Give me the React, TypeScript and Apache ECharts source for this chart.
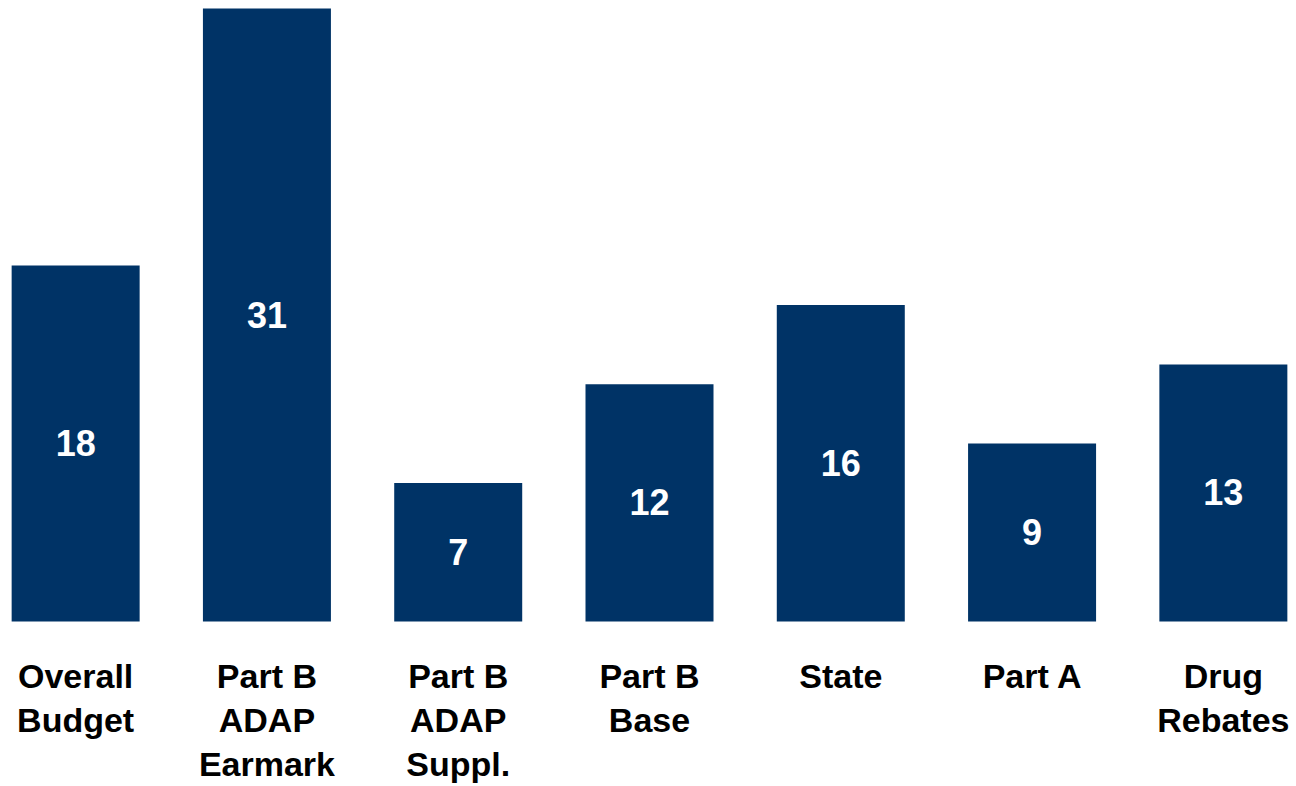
import React, { useEffect, useRef } from "react";
import * as echarts from "echarts";

const categories = [
  "Overall\nBudget",
  "Part B\nADAP\nEarmark",
  "Part B\nADAP\nSuppl.",
  "Part B\nBase",
  "State",
  "Part A",
  "Drug\nRebates",
];
const values = [18, 31, 7, 12, 16, 9, 13];

export default function App() {
  const ref = useRef<HTMLDivElement>(null);
  useEffect(() => {
    if (!ref.current) return;
    const chart = echarts.init(ref.current, null, { renderer: "svg" });
    chart.setOption({
      animation: false,
      grid: { left: 0, right: 0, top: 8.5, bottom: 163.5, containLabel: false },
      xAxis: {
        type: "category",
        data: categories,
        axisLine: { show: false },
        axisTick: { show: false },
        axisLabel: {
          interval: 0,
          margin: 32.5,
          color: "#000000",
          fontFamily: "Liberation Sans, Arial, sans-serif",
          fontWeight: "bold",
          fontSize: 34,
          lineHeight: 44,
          verticalAlign: "top",
        },
      },
      yAxis: {
        type: "value",
        min: 0,
        max: 31,
        show: false,
        splitLine: { show: false },
      },
      series: [
        {
          type: "bar",
          data: values,
          barWidth: 128,
          itemStyle: { color: "#003366" },
          label: {
            show: true,
            position: "inside",
            color: "#ffffff",
            fontFamily: "Liberation Sans, Arial, sans-serif",
            fontWeight: "bold",
            fontSize: 36,
          },
        },
      ],
    });
    return () => chart.dispose();
  }, []);
  return (
    <div
      style={{
        position: "absolute",
        left: 0,
        top: 0,
        width: 1296,
        height: 786,
        overflow: "hidden",
        background: "#ffffff",
      }}
    >
      <div
        ref={ref}
        style={{ position: "absolute", left: -20, top: 0, width: 1339, height: 786 }}
      />
    </div>
  );
}
